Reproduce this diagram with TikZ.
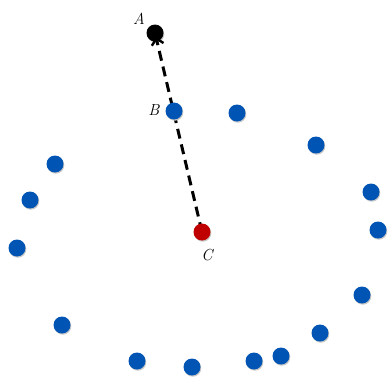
\documentclass[tikz,border=0pt]{standalone}
\usetikzlibrary{arrows.meta,calc}
\definecolor{dotblue}{RGB}{0,84,180}
\definecolor{dotred}{RGB}{192,0,0}
\tikzset{
  pt/.style={circle,inner sep=0pt,minimum size=17pt,fill=#1,
    preaction={fill=black!22,transform canvas={shift={(0.8pt,-1.2pt)}}}},
  lbl/.style={font=\fontsize{16}{18}\selectfont\itshape,inner sep=0pt},
  conn/.style={line width=3pt,dash pattern=on 10pt off 6pt,-{Straight Barb[length=6pt,width=12pt,line width=2.4pt]}}
}
\begin{document}
\begin{tikzpicture}[x=1pt,y=-1pt]
\useasboundingbox (0,0) rectangle (392,378);
\node[pt=black] (A) at (155,33) {};
\coordinate (pC) at (202,232);
\coordinate (tipA) at ($(A.center)!4pt!(pC)$);
\draw[conn] (pC) -- (tipA);
\node[pt=dotblue] (B) at (174,111) {};
\node[pt=dotred] (C) at (pC) {};
\node[lbl] (la) at (139,19) {A};
\node[lbl] (lb) at (154,110) {B};
\node[lbl] (lc) at (207,255) {C};
\foreach \i/\x/\y in {1/237/113,2/316/145,3/371/192,4/378/230,5/362/295,6/320/333,7/281/356,8/254/361,9/192/367,10/137/361,11/62/325,12/17/248,13/30/200,14/55/164}
  \node[pt=dotblue] (d\i) at (\x,\y) {};
\end{tikzpicture}
\end{document}
